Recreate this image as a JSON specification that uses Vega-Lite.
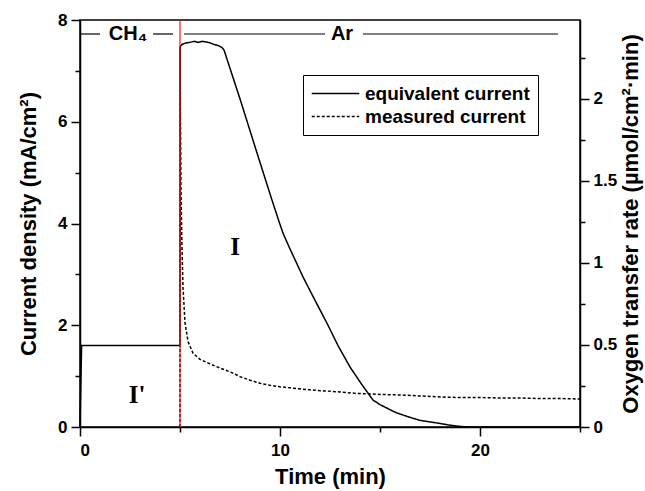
{
  "$schema": "https://vega.github.io/schema/vega-lite/v6.json",
  "width": 500,
  "height": 407,
  "autosize": {"type": "none"},
  "padding": {"left": 80, "top": 20, "right": 65, "bottom": 64},
  "background": "white",
  "config": {
    "view": {"stroke": "black", "strokeWidth": 1.5},
    "axis": {
      "grid": false,
      "domainColor": "black",
      "domainWidth": 1.5,
      "tickColor": "black",
      "tickWidth": 1.5,
      "labelColor": "black",
      "titleColor": "black",
      "labelFont": "Liberation Sans",
      "titleFont": "Liberation Sans",
      "labelFontWeight": "bold",
      "titleFontWeight": "bold",
      "labelFontSize": 17,
      "titleFontSize": 22
    }
  },
  "datasets": {
    "curves": [
      {"series": "equivalent current", "t": 0, "v": 0},
      {"series": "equivalent current", "t": 0.08, "v": 1.6},
      {"series": "equivalent current", "t": 5, "v": 1.6},
      {"series": "equivalent current", "t": 5.01, "v": 7.48},
      {"series": "equivalent current", "t": 5.1, "v": 7.52},
      {"series": "equivalent current", "t": 5.3, "v": 7.55},
      {"series": "equivalent current", "t": 5.5, "v": 7.56},
      {"series": "equivalent current", "t": 5.7, "v": 7.58},
      {"series": "equivalent current", "t": 5.9, "v": 7.56},
      {"series": "equivalent current", "t": 6.1, "v": 7.58},
      {"series": "equivalent current", "t": 6.3, "v": 7.57},
      {"series": "equivalent current", "t": 6.5, "v": 7.55},
      {"series": "equivalent current", "t": 6.7, "v": 7.52},
      {"series": "equivalent current", "t": 6.9, "v": 7.5},
      {"series": "equivalent current", "t": 7.1, "v": 7.46},
      {"series": "equivalent current", "t": 7.2, "v": 7.41},
      {"series": "equivalent current", "t": 8, "v": 6.45},
      {"series": "equivalent current", "t": 9, "v": 5.2},
      {"series": "equivalent current", "t": 9.6, "v": 4.46},
      {"series": "equivalent current", "t": 9.95, "v": 4.04},
      {"series": "equivalent current", "t": 10.15, "v": 3.81},
      {"series": "equivalent current", "t": 10.5, "v": 3.5},
      {"series": "equivalent current", "t": 11.15, "v": 2.95},
      {"series": "equivalent current", "t": 11.75, "v": 2.49},
      {"series": "equivalent current", "t": 12.35, "v": 2.04},
      {"series": "equivalent current", "t": 12.9, "v": 1.6},
      {"series": "equivalent current", "t": 13.5, "v": 1.18},
      {"series": "equivalent current", "t": 14.1, "v": 0.83},
      {"series": "equivalent current", "t": 14.65, "v": 0.53},
      {"series": "equivalent current", "t": 15, "v": 0.44},
      {"series": "equivalent current", "t": 15.5, "v": 0.34},
      {"series": "equivalent current", "t": 15.85, "v": 0.275},
      {"series": "equivalent current", "t": 16.5, "v": 0.19},
      {"series": "equivalent current", "t": 17, "v": 0.13},
      {"series": "equivalent current", "t": 17.5, "v": 0.1},
      {"series": "equivalent current", "t": 18, "v": 0.07},
      {"series": "equivalent current", "t": 18.5, "v": 0.035},
      {"series": "equivalent current", "t": 19, "v": 0.012},
      {"series": "equivalent current", "t": 19.4, "v": 0},
      {"series": "equivalent current", "t": 25, "v": 0},
      {"series": "measured current", "t": 5, "v": 0},
      {"series": "measured current", "t": 5.005, "v": 7.47},
      {"series": "measured current", "t": 5.02, "v": 6.2},
      {"series": "measured current", "t": 5.05, "v": 4.6},
      {"series": "measured current", "t": 5.1, "v": 3.5},
      {"series": "measured current", "t": 5.15, "v": 2.75},
      {"series": "measured current", "t": 5.25, "v": 2.05},
      {"series": "measured current", "t": 5.4, "v": 1.68},
      {"series": "measured current", "t": 5.65, "v": 1.45},
      {"series": "measured current", "t": 6, "v": 1.33},
      {"series": "measured current", "t": 6.5, "v": 1.24},
      {"series": "measured current", "t": 7, "v": 1.16},
      {"series": "measured current", "t": 7.65, "v": 1.06},
      {"series": "measured current", "t": 8, "v": 0.99},
      {"series": "measured current", "t": 8.5, "v": 0.92},
      {"series": "measured current", "t": 9, "v": 0.86},
      {"series": "measured current", "t": 9.5, "v": 0.82},
      {"series": "measured current", "t": 10, "v": 0.79},
      {"series": "measured current", "t": 10.5, "v": 0.77},
      {"series": "measured current", "t": 11, "v": 0.75},
      {"series": "measured current", "t": 11.5, "v": 0.73},
      {"series": "measured current", "t": 12.2, "v": 0.71},
      {"series": "measured current", "t": 13, "v": 0.69},
      {"series": "measured current", "t": 13.8, "v": 0.66},
      {"series": "measured current", "t": 14.5, "v": 0.65},
      {"series": "measured current", "t": 15, "v": 0.64},
      {"series": "measured current", "t": 16, "v": 0.63},
      {"series": "measured current", "t": 16.6, "v": 0.62},
      {"series": "measured current", "t": 17, "v": 0.61},
      {"series": "measured current", "t": 18, "v": 0.59},
      {"series": "measured current", "t": 19, "v": 0.58},
      {"series": "measured current", "t": 20, "v": 0.58},
      {"series": "measured current", "t": 21, "v": 0.57},
      {"series": "measured current", "t": 22, "v": 0.57},
      {"series": "measured current", "t": 23, "v": 0.56},
      {"series": "measured current", "t": 24, "v": 0.56},
      {"series": "measured current", "t": 25, "v": 0.55}
    ],
    "gasSegments": [
      {"x": 0, "x2": 1.0, "y": 7.725},
      {"x": 3.65, "x2": 4.65, "y": 7.725},
      {"x": 5.2, "x2": 12.25, "y": 7.725},
      {"x": 14.15, "x2": 23.9, "y": 7.725}
    ],
    "gasLabels": [
      {"x": 2.4, "y": 7.725, "label": "CH₄"},
      {"x": 13.1, "y": 7.725, "label": "Ar"}
    ],
    "regionLabels": [
      {"x": 7.75, "y": 3.54, "label": "I"},
      {"x": 2.85, "y": 0.63, "label": "I'"}
    ],
    "switchTime": [{"x": 5}],
    "rightRange": [{"r": 0}, {"r": 2.48}]
  },
  "layer": [
    {
      "layer": [
        {
          "data": {"name": "curves"},
          "mark": {"type": "line", "color": "black", "strokeWidth": 1.5},
          "encoding": {
            "x": {
              "field": "t",
              "type": "quantitative",
              "scale": {"domain": [0, 25], "nice": false, "zero": false},
              "axis": {
                "title": "Time (min)",
                "values": [0, 5, 10, 15, 20, 25],
                "labelExpr": "datum.value % 10 == 0 ? datum.label : ''",
                "tickSize": {"condition": {"test": "datum.value % 10 == 0", "value": 9}, "value": 5},
                "labelPadding": 6,
                "titlePadding": 8
              }
            },
            "y": {
              "field": "v",
              "type": "quantitative",
              "scale": {"domain": [0, 8], "nice": false},
              "axis": {
                "title": "Current density (mA/cm²)",
                "values": [0, 1, 2, 3, 4, 5, 6, 7, 8],
                "labelExpr": "datum.value % 2 == 0 ? datum.label : ''",
                "tickSize": {"condition": {"test": "datum.value % 2 == 0", "value": 9}, "value": 5},
                "labelPadding": 4,
                "titlePadding": 17
              }
            },
            "strokeDash": {
              "field": "series",
              "type": "nominal",
              "scale": {"domain": ["equivalent current", "measured current"], "range": [[1, 0], [3, 2]]},
              "legend": {
                "title": null,
                "orient": "none",
                "legendX": 223,
                "legendY": 55,
                "strokeColor": "black",
                "fillColor": "white",
                "padding": 8,
                "symbolType": "M-2.5,0H2.5",
                "symbolSize": 361,
                "symbolOffset": 14,
                "symbolStrokeWidth": 1.5,
                "symbolStrokeColor": "black",
                "labelFont": "Liberation Sans",
                "labelFontWeight": "bold",
                "labelFontSize": 19,
                "labelColor": "black",
                "labelOffset": 19,
                "labelLimit": 400,
                "rowPadding": 2
              }
            }
          }
        },
        {
          "data": {"name": "switchTime"},
          "mark": {"type": "rule", "color": "#e8201c", "strokeWidth": 1.2},
          "encoding": {"x": {"field": "x", "type": "quantitative"}}
        },
        {
          "data": {"name": "gasSegments"},
          "mark": {"type": "rule", "color": "black", "strokeWidth": 1.2},
          "encoding": {
            "x": {"field": "x", "type": "quantitative"},
            "x2": {"field": "x2"},
            "y": {"field": "y", "type": "quantitative"}
          }
        },
        {
          "data": {"name": "gasLabels"},
          "mark": {"type": "text", "font": "Liberation Sans", "fontWeight": "bold", "fontSize": 20, "align": "center", "baseline": "middle", "color": "black"},
          "encoding": {
            "x": {"field": "x", "type": "quantitative"},
            "y": {"field": "y", "type": "quantitative"},
            "text": {"field": "label"}
          }
        },
        {
          "data": {"name": "regionLabels"},
          "mark": {"type": "text", "font": "Liberation Serif", "fontWeight": "bold", "fontSize": 25, "align": "center", "baseline": "middle", "color": "black"},
          "encoding": {
            "x": {"field": "x", "type": "quantitative"},
            "y": {"field": "y", "type": "quantitative"},
            "text": {"field": "label"}
          }
        }
      ]
    },
    {
      "data": {"name": "rightRange"},
      "mark": {"type": "point", "opacity": 0},
      "encoding": {
        "y": {
          "field": "r",
          "type": "quantitative",
          "scale": {"domain": [0, 2.48], "nice": false},
          "axis": {
            "orient": "right",
            "title": "Oxygen transfer rate (µmol/cm²·min)",
            "titleAngle": 270,
            "titleBaseline": "top",
            "values": [0, 0.25, 0.5, 0.75, 1, 1.25, 1.5, 1.75, 2, 2.25],
            "labelExpr": "(datum.value * 4) % 2 == 0 ? format(datum.value, '~g') : ''",
            "tickSize": {"condition": {"test": "(datum.value * 4) % 2 == 0", "value": 9}, "value": 5},
            "labelPadding": 4,
            "titlePadding": 4
          }
        }
      }
    }
  ],
  "resolve": {"scale": {"y": "independent"}}
}
